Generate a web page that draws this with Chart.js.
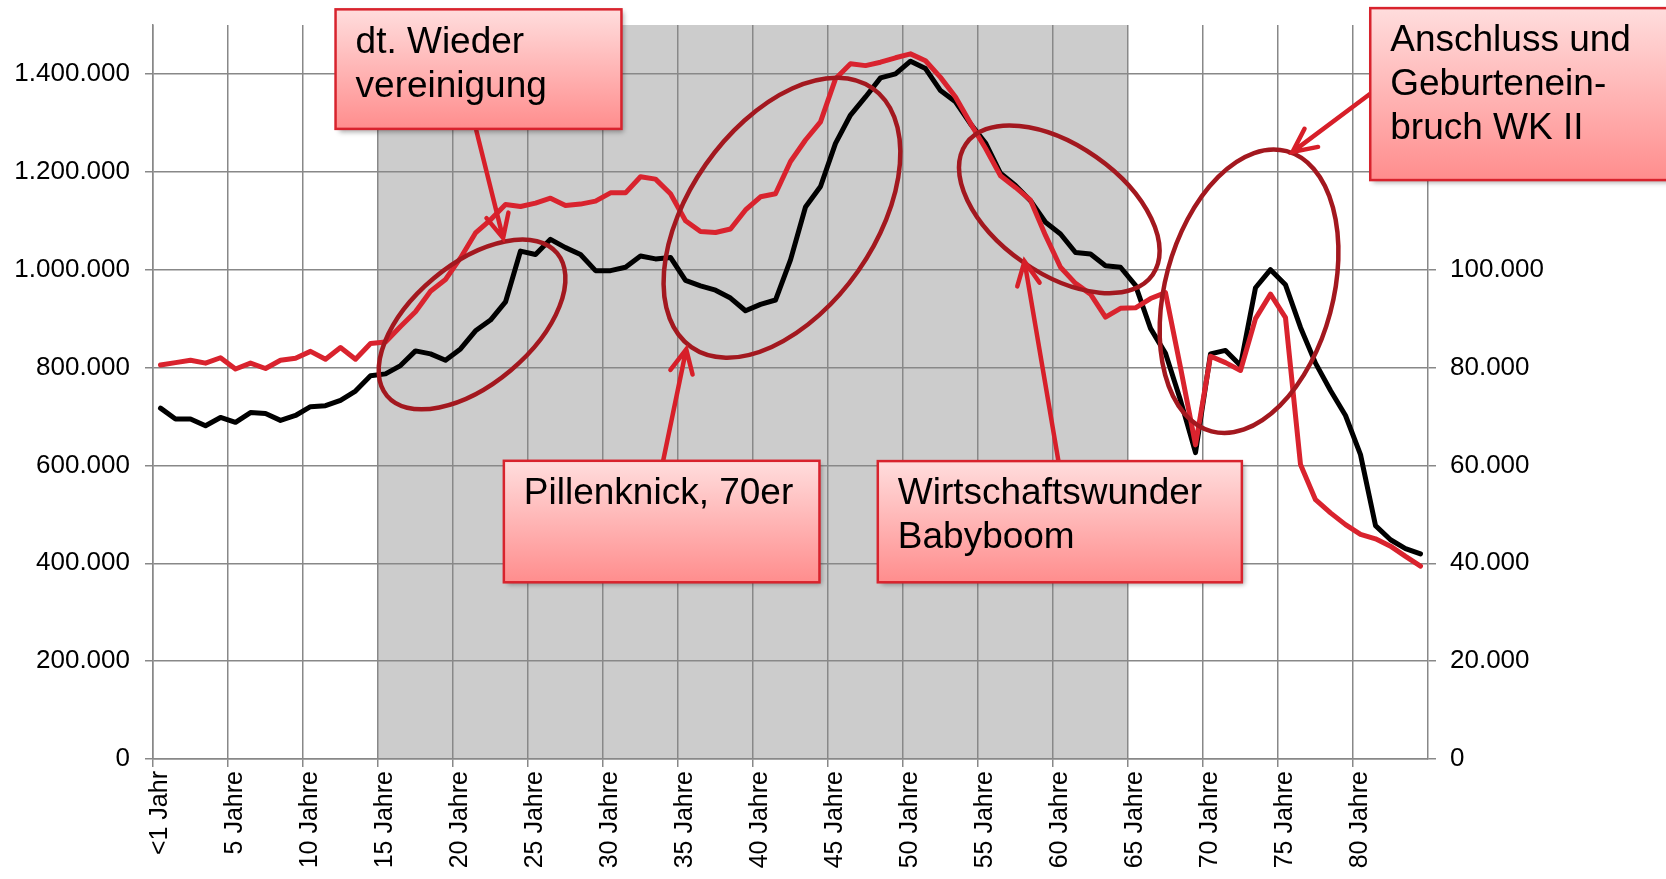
<!DOCTYPE html>
<html>
<head>
<meta charset="utf-8">
<script src="https://cdn.jsdelivr.net/npm/chart.js@4"></script>
<style>
  html, body { margin: 0; padding: 0; background: #fff; }
</style>
</head>
<body>
<canvas id="myAgeChart" width="1666" height="879"></canvas>
<script>
// age groups (one category per year)
const ageLabels = [
  '<1 Jahr', '1 Jahr', '2 Jahre', '3 Jahre', '4 Jahre', '5 Jahre', '6 Jahre', '7 Jahre', '8 Jahre', '9 Jahre',
  '10 Jahre', '11 Jahre', '12 Jahre', '13 Jahre', '14 Jahre', '15 Jahre', '16 Jahre', '17 Jahre', '18 Jahre', '19 Jahre',
  '20 Jahre', '21 Jahre', '22 Jahre', '23 Jahre', '24 Jahre', '25 Jahre', '26 Jahre', '27 Jahre', '28 Jahre', '29 Jahre',
  '30 Jahre', '31 Jahre', '32 Jahre', '33 Jahre', '34 Jahre', '35 Jahre', '36 Jahre', '37 Jahre', '38 Jahre', '39 Jahre',
  '40 Jahre', '41 Jahre', '42 Jahre', '43 Jahre', '44 Jahre', '45 Jahre', '46 Jahre', '47 Jahre', '48 Jahre', '49 Jahre',
  '50 Jahre', '51 Jahre', '52 Jahre', '53 Jahre', '54 Jahre', '55 Jahre', '56 Jahre', '57 Jahre', '58 Jahre', '59 Jahre',
  '60 Jahre', '61 Jahre', '62 Jahre', '63 Jahre', '64 Jahre', '65 Jahre', '66 Jahre', '67 Jahre', '68 Jahre', '69 Jahre',
  '70 Jahre', '71 Jahre', '72 Jahre', '73 Jahre', '74 Jahre', '75 Jahre', '76 Jahre', '77 Jahre', '78 Jahre', '79 Jahre',
  '80 Jahre', '81 Jahre', '82 Jahre', '83 Jahre', '84 Jahre'
];

// black line, left axis
const germanyValues = [
  717000, 695000, 695000, 681000, 698000, 688000, 708000, 706000, 692000, 702000,
  720000, 722000, 733000, 752000, 783000, 787000, 804000, 834000, 828000, 815000,
  838000, 875000, 897000, 934000, 1038000, 1031000, 1062000, 1045000, 1031000, 998000,
  998000, 1005000, 1028000, 1022000, 1025000, 978000, 967000, 958000, 942000, 916000,
  929000, 938000, 1020000, 1128000, 1170000, 1258000, 1316000, 1353000, 1392000, 1400000,
  1426000, 1411000, 1366000, 1343000, 1298000, 1259000, 1197000, 1172000, 1141000, 1097000,
  1073000, 1035000, 1032000, 1008000, 1005000, 968000, 880000, 829000, 733000, 626000,
  828000, 835000, 804000, 963000, 1000000, 969000, 882000, 809000, 753000, 702000,
  622000, 477000, 448000, 430000, 419000
];

// red line, right axis
const regionValues = [
  80500, 81000, 81500, 80900, 82000, 79700, 80900, 79800, 81500, 81900,
  83300, 81700, 84100, 81700, 84900, 85200, 88400, 91400, 95600, 98000,
  102400, 107500, 110200, 113300, 112900, 113600, 114600, 113100, 113400, 114000,
  115700, 115700, 119000, 118500, 115500, 110000, 107800, 107600, 108300, 112200,
  114900, 115500, 122100, 126500, 130200, 139000, 142100, 141700, 142400, 143300,
  144100, 142700, 139300, 135300, 129900, 124800, 119200, 116800, 114200, 107000,
  100500, 97200, 95000, 90300, 92100, 92200, 94100, 95300, 80000, 64200,
  82300, 81000, 79400, 90000, 95000, 90200, 60200, 53000, 50300, 47900,
  45900, 45000, 43500, 41400, 39400
];

// axis ticks
const leftTicks = [0, 200000, 400000, 600000, 800000, 1000000, 1200000, 1400000];
const rightTicks = [0, 20000, 40000, 60000, 80000, 100000, 120000, 140000];
const leftAxisMax = 1500000;
const rightAxisMax = 150000;
const labelEvery = 5;
const shadeFrom = 15;
const shadeTo = 65;

const fontFamily = '"Liberation Sans", Arial, sans-serif';
const gridColor = '#888888';

function deNum(v) {
  return String(Math.round(v)).replace(/\B(?=(\d{3})+(?!\d))/g, '.');
}

// callouts, placed in chart units (category index / left axis value)
const callouts = [
  { lines: ['dt. Wieder', 'vereinigung'], c1: 11.67, c2: 30.73, v1: 1532000, v2: 1287700 },
  { lines: ['Pillenknick, 70er'], c1: 22.89, c2: 43.93, v1: 609400, v2: 361100 },
  { lines: ['Wirtschaftswunder', 'Babyboom'], c1: 47.82, c2: 72.09, v1: 608800, v2: 361100 },
  { lines: ['Anschluss und', 'Geburtenein-', 'bruch WK II'], c1: 80.65, c2: 100.6, v1: 1534500, v2: 1183100 }
];
const rings = [
  { c: 20.77, v: 888000, rx: 111, ry: 60, rot: -40 },
  { c: 41.43, v: 1106200, rx: 158, ry: 93, rot: -55 },
  { c: 59.92, v: 1123300, rx: 114, ry: 64, rot: 35 },
  { c: 72.57, v: 955900, rx: 145, ry: 84, rot: -75 }
];
const pointers = [
  { c1: 21.05, v1: 1284900, c2: 22.84, v2: 1064500 },
  { c1: 33.51, v1: 609400, c2: 35.05, v2: 837200 },
  { c1: 59.86, v1: 609400, c2: 57.6, v2: 1016900 },
  { c1: 80.65, v1: 1359500, c2: 75.47, v2: 1240700 }
];

const shadePlugin = {
  id: 'shade',
  beforeDraw(chart) {
    const x = chart.scales.x, area = chart.chartArea, ctx = chart.ctx;
    const x1 = x.getPixelForValue(shadeFrom - 0.5);
    const x2 = x.getPixelForValue(shadeTo - 0.5);
    ctx.save();
    ctx.fillStyle = '#cccccc';
    ctx.fillRect(x1, area.top, x2 - x1, area.bottom - area.top);
    ctx.restore();
  }
};

const calloutPlugin = {
  id: 'callouts',
  afterDraw(chart) {
    const ctx = chart.ctx, x = chart.scales.x, y = chart.scales.y;

    // ellipses
    ctx.save();
    ctx.strokeStyle = '#a3181f';
    ctx.lineWidth = 4.5;
    rings.forEach(r => {
      ctx.beginPath();
      ctx.ellipse(x.getPixelForValue(r.c), y.getPixelForValue(r.v), r.rx, r.ry, r.rot * Math.PI / 180, 0, Math.PI * 2);
      ctx.stroke();
    });
    ctx.restore();

    // arrows
    ctx.save();
    ctx.strokeStyle = '#d71f29';
    ctx.lineWidth = 4.5;
    ctx.lineCap = 'round';
    pointers.forEach(p => {
      const x1 = x.getPixelForValue(p.c1), y1 = y.getPixelForValue(p.v1);
      const x2 = x.getPixelForValue(p.c2), y2 = y.getPixelForValue(p.v2);
      const ang = Math.atan2(y2 - y1, x2 - x1);
      const L = 26, a = 0.45;
      ctx.beginPath();
      ctx.moveTo(x1, y1);
      ctx.lineTo(x2, y2);
      ctx.moveTo(x2 - L * Math.cos(ang - a), y2 - L * Math.sin(ang - a));
      ctx.lineTo(x2, y2);
      ctx.lineTo(x2 - L * Math.cos(ang + a), y2 - L * Math.sin(ang + a));
      ctx.stroke();
    });
    ctx.restore();

    // boxes
    callouts.forEach(b => {
      const x1 = x.getPixelForValue(b.c1), x2 = x.getPixelForValue(b.c2);
      const y1 = y.getPixelForValue(b.v1), y2 = y.getPixelForValue(b.v2);
      ctx.save();
      ctx.shadowColor = 'rgba(0,0,0,0.35)';
      ctx.shadowBlur = 5;
      ctx.shadowOffsetX = 3;
      ctx.shadowOffsetY = 3;
      const g = ctx.createLinearGradient(0, y1, 0, y2);
      g.addColorStop(0, '#ffdddd');
      g.addColorStop(1, '#ff8d8d');
      ctx.fillStyle = g;
      ctx.fillRect(x1, y1, x2 - x1, y2 - y1);
      ctx.restore();
      ctx.save();
      ctx.strokeStyle = '#d8232d';
      ctx.lineWidth = 2.5;
      ctx.strokeRect(x1, y1, x2 - x1, y2 - y1);
      ctx.fillStyle = '#000';
      ctx.font = '37px ' + fontFamily;
      ctx.textBaseline = 'middle';
      ctx.textAlign = 'left';
      b.lines.forEach((t, i) => ctx.fillText(t, x1 + 20, y1 + 33 + i * 44));
      ctx.restore();
    });
  }
};

var ageChart = document.getElementById('myAgeChart');

const ageData = {
  labels: ageLabels,
  datasets: [{
    label: 'Region',
    data: regionValues,
    yAxisID: 'y2',
    borderColor: '#d9232e',
    backgroundColor: '#d9232e',
    borderWidth: 5,
    order: 0
  }, {
    label: 'Deutschland',
    data: germanyValues,
    yAxisID: 'y',
    borderColor: '#000000',
    backgroundColor: '#000000',
    borderWidth: 5,
    order: 1
  }]
};

const tickFont = { family: fontFamily, size: 26 };

// keep the plot area where the reference has it
function fixVertical(width) {
  return s => {
    s.width = width;
    s.paddingTop = 0;
    s.paddingBottom = 0;
  };
}

const ageConfig = {
  type: 'line',
  data: ageData,
  options: {
    responsive: false,
    animation: false,
    layout: { padding: { top: 25 } },
    elements: {
      point: { radius: 0, hoverRadius: 0 },
      line: { tension: 0, borderJoinStyle: 'round', borderCapStyle: 'round' }
    },
    plugins: {
      legend: { display: false },
      tooltip: { enabled: false }
    },
    scales: {
      x: {
        type: 'category',
        offset: true,
        grid: {
          offset: true,
          color: c => (c.index % labelEvery === 0 ? gridColor : 'rgba(0,0,0,0)'),
          lineWidth: 1.5,
          tickLength: 8
        },
        border: { color: gridColor, width: 1.5 },
        ticks: {
          autoSkip: false,
          minRotation: 90,
          maxRotation: 90,
          padding: 4,
          color: '#000',
          font: { family: fontFamily, size: 25 },
          callback: (v, i) => (i % labelEvery === 0 ? ageLabels[i] : '')
        },
        afterFit: s => {
          s.height = 120;
          s.paddingLeft = 0;
          s.paddingRight = 0;
        }
      },
      y: {
        position: 'left',
        min: 0,
        max: leftAxisMax,
        grid: { color: gridColor, lineWidth: 1.5, tickLength: 8 },
        border: { color: gridColor, width: 1.5 },
        ticks: {
          padding: 15,
          color: '#000',
          font: tickFont,
          callback: v => deNum(v)
        },
        afterBuildTicks: s => { s.ticks = leftTicks.map(v => ({ value: v })); },
        afterFit: fixVertical(153)
      },
      y2: {
        position: 'right',
        min: 0,
        max: rightAxisMax,
        grid: { drawOnChartArea: false, color: gridColor, lineWidth: 1.5, tickLength: 8 },
        border: { color: gridColor, width: 1.5 },
        ticks: {
          padding: 14,
          color: '#000',
          font: tickFont,
          callback: v => deNum(v)
        },
        afterBuildTicks: s => { s.ticks = rightTicks.map(v => ({ value: v })); },
        afterFit: fixVertical(238)
      }
    }
  },
  plugins: [shadePlugin, calloutPlugin]
};

const myAgeChart = new Chart(ageChart, ageConfig);
</script>
</body>
</html>
